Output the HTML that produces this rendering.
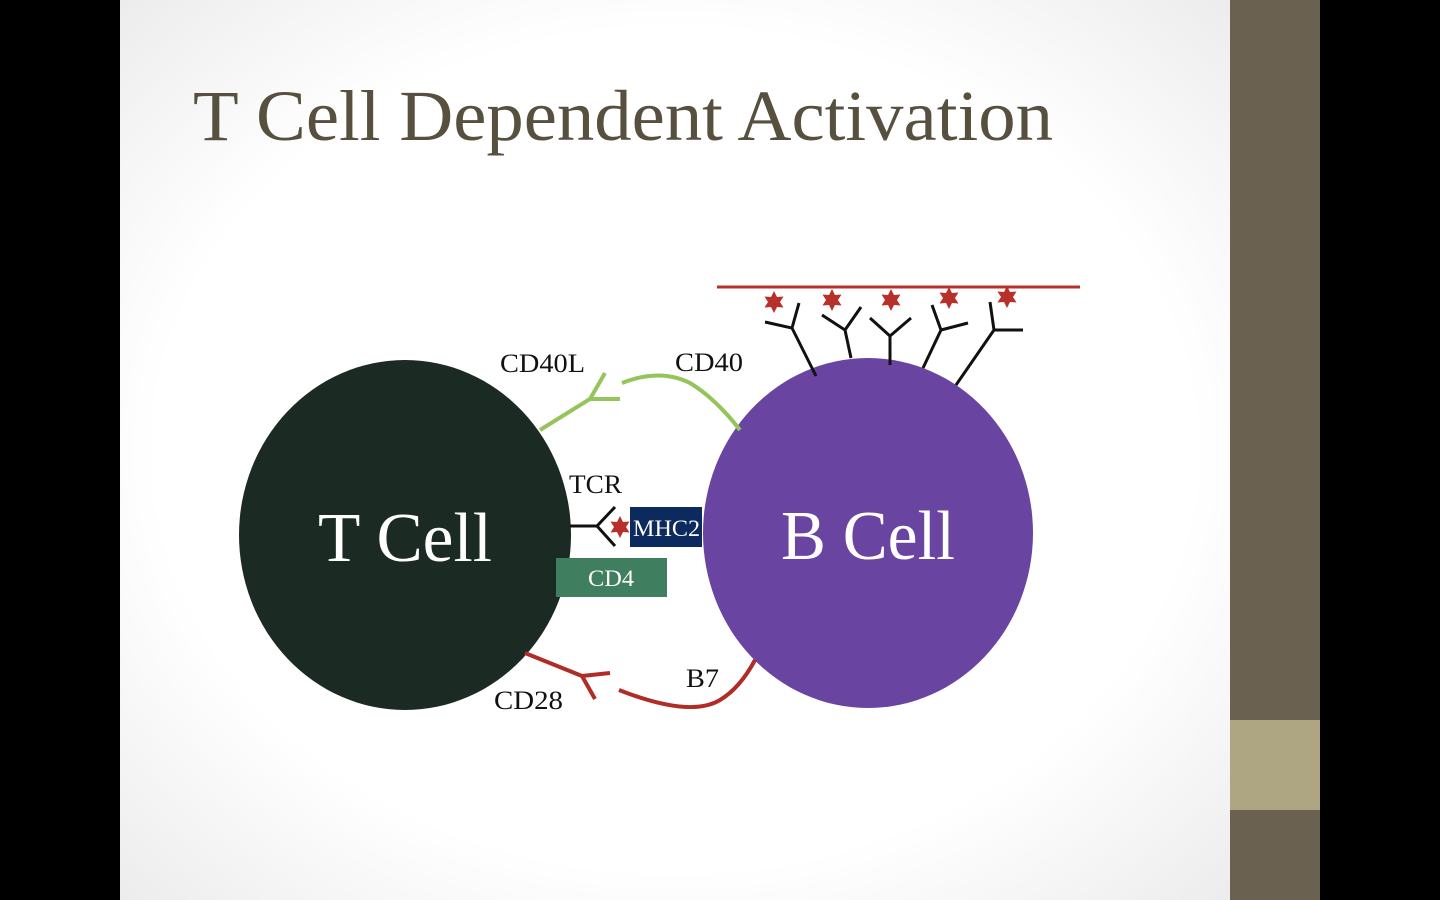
<!DOCTYPE html>
<html><head><meta charset="utf-8"><style>
html,body{margin:0;padding:0;width:1440px;height:900px;overflow:hidden;background:#000}
</style></head><body>
<svg width="1440" height="900" viewBox="0 0 1440 900" xmlns="http://www.w3.org/2000/svg">
<defs>
<radialGradient id="bg" cx="50%" cy="50%" r="72%">
<stop offset="0.65" stop-color="#ffffff"/><stop offset="1" stop-color="#ebebeb"/>
</radialGradient>
<polygon id="star" points="0,-11 3,-5 9.5,-5.5 6,0 9.5,5.5 3,5 0,11 -3,5 -9.5,5.5 -6,0 -9.5,-5.5 -3,-5" fill="#b8302a"/>
</defs>
<rect x="0" y="0" width="1440" height="900" fill="#000"/>
<rect x="120" y="0" width="1110" height="900" fill="url(#bg)"/>
<rect x="1230" y="0" width="90" height="900" fill="#6b6150"/>
<rect x="1230" y="720" width="90" height="90" fill="#aea682"/>
<text x="193" y="140" font-family="Liberation Serif, serif" font-size="72" fill="#57503f" textLength="860" lengthAdjust="spacingAndGlyphs">T Cell Dependent Activation</text>

<ellipse cx="405" cy="535" rx="166" ry="175" fill="#1c2a24"/>
<ellipse cx="868" cy="533" rx="165" ry="175" fill="#6944a0"/>
<text x="318" y="561" font-family="Liberation Serif, serif" font-size="70" fill="#fff" textLength="174" lengthAdjust="spacingAndGlyphs">T Cell</text>
<text x="781" y="559" font-family="Liberation Serif, serif" font-size="70" fill="#fff" textLength="174" lengthAdjust="spacingAndGlyphs">B Cell</text>

<line x1="717" y1="287" x2="1080" y2="287" stroke="#b8302a" stroke-width="3"/>
<use href="#star" x="774" y="302"/><use href="#star" x="832" y="300"/><use href="#star" x="891" y="300"/><use href="#star" x="949" y="298"/><use href="#star" x="1007" y="297"/>
<g stroke="#111" stroke-width="3" fill="none">
<path d="M816,376 L792,328 L765,322 M792,328 L799,303"/>
<path d="M851,358 L845,330 L822,315 M845,330 L861,307"/>
<path d="M890,365 L890,336 L870,318 M890,336 L911,318"/>
<path d="M923,368 L941,330 L932,305 M941,330 L968,323"/>
<path d="M956,385 L994,330 L990,302 M994,330 L1023,330"/>
<path d="M570,526 L597,526 L615,507 M597,526 L615,546"/>
</g>
<g stroke="#94c45a" stroke-width="4" fill="none">
<path d="M540,430 L590,399 L605,373 M590,399 L620,399"/>
<path d="M622,383 Q660,368 690,383 Q715,398 740,430"/>
</g>
<g stroke="#b02c26" stroke-width="4" fill="none">
<path d="M525,653 L582,676 L595,699 M582,676 L610,673"/>
<path d="M619,690 Q690,718 720,700 Q740,688 755,660"/>
</g>
<use href="#star" x="620" y="527"/>
<rect x="630" y="507" width="72" height="40" fill="#0c2a5e"/>
<text x="633" y="536" font-family="Liberation Serif, serif" font-size="23" fill="#fff" textLength="67" lengthAdjust="spacingAndGlyphs">MHC2</text>
<rect x="556" y="558" width="111" height="39" fill="#3f7f5f"/>
<text x="588" y="586" font-family="Liberation Serif, serif" font-size="23" fill="#fff" textLength="46" lengthAdjust="spacingAndGlyphs">CD4</text>
<g font-family="Liberation Serif, serif" font-size="26" fill="#111" lengthAdjust="spacingAndGlyphs">
<text x="500" y="372" textLength="85" lengthAdjust="spacingAndGlyphs">CD40L</text>
<text x="675" y="371" textLength="68" lengthAdjust="spacingAndGlyphs">CD40</text>
<text x="569" y="493" textLength="53" lengthAdjust="spacingAndGlyphs">TCR</text>
<text x="686" y="687" textLength="33" lengthAdjust="spacingAndGlyphs">B7</text>
<text x="494" y="709" textLength="69" lengthAdjust="spacingAndGlyphs">CD28</text>
</g>
</svg>
</body></html>
